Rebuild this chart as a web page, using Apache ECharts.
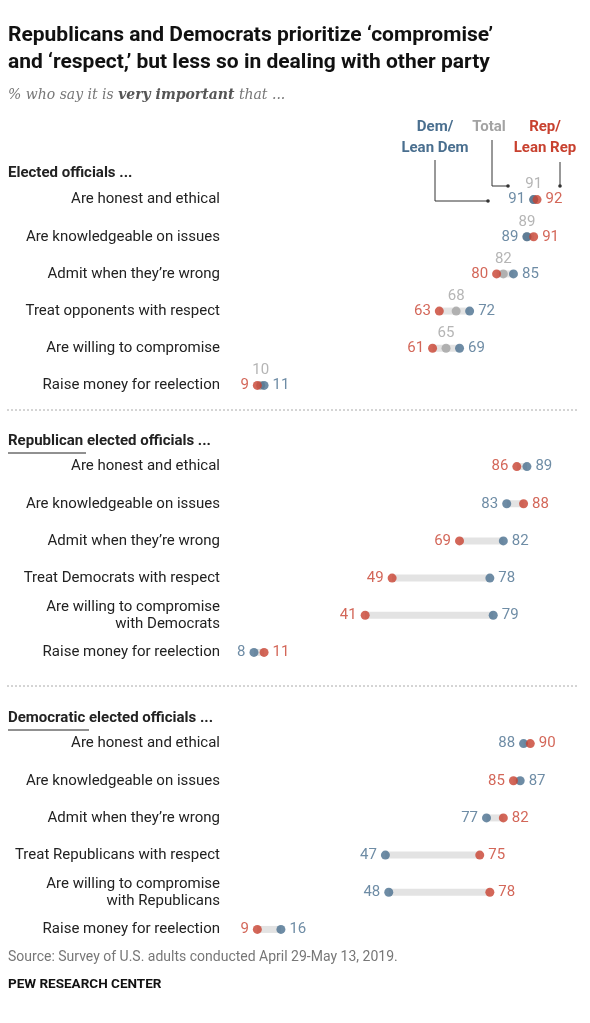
<!DOCTYPE html>
<html><head><meta charset="utf-8">
<script src="https://cdn.jsdelivr.net/npm/echarts@6/dist/echarts.min.js"></script>
<style>body{margin:0}#c{width:590px;height:1023px}</style></head>
<body><div id="c"></div>
<script>
const cats1 = ['Are honest and ethical','Are knowledgeable on issues','Admit when they\u2019re wrong','Treat opponents with respect','Are willing to compromise','Raise money for reelection'];
const cats2 = ['Are honest and ethical','Are knowledgeable on issues','Admit when they\u2019re wrong','Treat Democrats with respect','Are willing to compromise\nwith Democrats','Raise money for reelection'];
const cats3 = ['Are honest and ethical','Are knowledgeable on issues','Admit when they\u2019re wrong','Treat Republicans with respect','Are willing to compromise\nwith Republicans','Raise money for reelection'];
const rep1 = [92,91,80,63,61,9], dem1 = [91,89,85,72,69,11], tot1 = [91,89,82,68,65,10];
const rep2 = [86,88,69,49,41,11], dem2 = [89,83,82,78,79,8];
const rep3 = [90,85,82,75,78,9], dem3 = [88,87,77,47,48,16];

const BLUE='#4a6f8f', RED='#c8412f', GRAY='#a3a3a3', BAR='#e3e3e3';
const FONT='Roboto';
const tops=[181,448,725];
const catsAll=[cats1,cats2,cats3], repAll=[rep1,rep2,rep3], demAll=[dem1,dem2,dem3];
const grid=[],xAxis=[],yAxis=[],series=[];
for(let g=0;g<3;g++){
  grid.push({left:227,right:26,top:tops[g],height:223});
  xAxis.push({gridIndex:g,type:'value',min:0,max:100,show:false});
  yAxis.push({gridIndex:g,type:'category',inverse:true,data:catsAll[g],axisLine:{show:false},axisTick:{show:false},
    axisLabel:{color:'#222',fontSize:15,fontFamily:FONT,align:'right',margin:7,lineHeight:17}});
  const rep=repAll[g], dem=demAll[g];
  series.push({type:'custom',xAxisIndex:g,yAxisIndex:g,silent:true,
    data:rep.map((r,i)=>[Math.min(r,dem[i]),Math.max(r,dem[i]),i]),
    renderItem:(p,api)=>{const a=api.coord([api.value(0),api.value(2)]),b=api.coord([api.value(1),api.value(2)]);
      return {type:'rect',shape:{x:a[0],y:a[1]-3.5,width:b[0]-a[0],height:7},style:{fill:BAR}};}});
  if(g===0){
    series.push({type:'scatter',xAxisIndex:0,yAxisIndex:0,symbolSize:9,itemStyle:{color:GRAY},
      data:tot1.map((v,i)=>[v,i]),
      label:{show:true,position:'top',distance:3,color:GRAY,fontSize:15,fontFamily:FONT,formatter:p=>p.value[0]}});
  }
  const mk=(arr,other,isRep)=>arr.map((v,i)=>{const right=v>other[i]||(v===other[i]&&isRep);
    return {value:[v,i],label:{position:right?'right':'left'}};});
  series.push({type:'scatter',xAxisIndex:g,yAxisIndex:g,symbolSize:9,itemStyle:{color:BLUE},z:3,
    data:mk(dem,rep,false),label:{show:true,distance:4,color:BLUE,fontSize:15,fontFamily:FONT,formatter:p=>p.value[0]}});
  series.push({type:'scatter',xAxisIndex:g,yAxisIndex:g,symbolSize:9,itemStyle:{color:RED},z:3,
    data:mk(rep,dem,true),label:{show:true,distance:4,color:RED,fontSize:15,fontFamily:FONT,formatter:p=>p.value[0]}});
}
const txt=(x,y,t,s)=>({type:'text',left:x,top:y,style:Object.assign({text:t,fontFamily:FONT,fill:'#222',fontSize:15},s)});
const ctr=(x,y,t,col)=>({type:'text',style:{x:x,y:y,text:t,align:'center',fill:col,fontWeight:'bold',fontSize:15,lineHeight:21,fontFamily:FONT}});
const graphic=[
  txt(8,22,'Republicans and Democrats prioritize \u2018compromise\u2019\nand \u2018respect,\u2019 but less so in dealing with other party',{fontSize:21,fontWeight:'bold',lineHeight:27,fill:'#111'}),
  {type:'text',left:8,top:88,style:{text:'{a|% who say it is }{b|very important}{a| that ...}',
    rich:{a:{fontSize:14,fontStyle:'italic',fill:'#777',fontFamily:'DejaVu Serif'},b:{fontSize:14,fontStyle:'italic',fontWeight:'bold',fill:'#555',fontFamily:'DejaVu Serif'}}}},
  ctr(435,117,'Dem/\nLean Dem',BLUE),
  ctr(489,117,'Total',GRAY),
  ctr(545,117,'Rep/\nLean Rep',RED),
  {type:'polyline',shape:{points:[[435,160],[435,201],[488,201]]},style:{stroke:'#333',lineWidth:1,fill:null}},
  {type:'circle',shape:{cx:488,cy:201,r:1.8},style:{fill:'#333'}},
  {type:'polyline',shape:{points:[[492,140],[492,186],[508,186]]},style:{stroke:'#333',lineWidth:1,fill:null}},
  {type:'circle',shape:{cx:508,cy:186,r:1.8},style:{fill:'#333'}},
  {type:'line',shape:{x1:560,y1:162,x2:560,y2:186},style:{stroke:'#333',lineWidth:1}},
  {type:'circle',shape:{cx:560,cy:186,r:1.8},style:{fill:'#333'}},
  txt(8,166,'Elected officials ...',{fontWeight:'bold'}),
  txt(8,434,'Republican elected officials ...',{fontWeight:'bold'}),
  {type:'line',shape:{x1:8,y1:453,x2:86,y2:453},style:{stroke:'#222',lineWidth:1}},
  txt(8,711,'Democratic elected officials ...',{fontWeight:'bold'}),
  {type:'line',shape:{x1:8,y1:730,x2:89,y2:730},style:{stroke:'#222',lineWidth:1}},
  {type:'line',shape:{x1:7,y1:410,x2:578,y2:410},style:{stroke:'#aaa',lineWidth:1,lineDash:[2,2]}},
  {type:'line',shape:{x1:7,y1:686,x2:578,y2:686},style:{stroke:'#aaa',lineWidth:1,lineDash:[2,2]}},
  txt(8,950,'Source: Survey of U.S. adults conducted April 29-May 13, 2019.',{fontSize:14,fill:'#777'}),
  txt(8,978,'PEW RESEARCH CENTER',{fontSize:13.5,fontWeight:'bold',fill:'#111'})
];
const chart=echarts.init(document.getElementById('c'));
chart.setOption({animation:false,backgroundColor:'#fff',grid,xAxis,yAxis,series,graphic});
</script></body></html>
